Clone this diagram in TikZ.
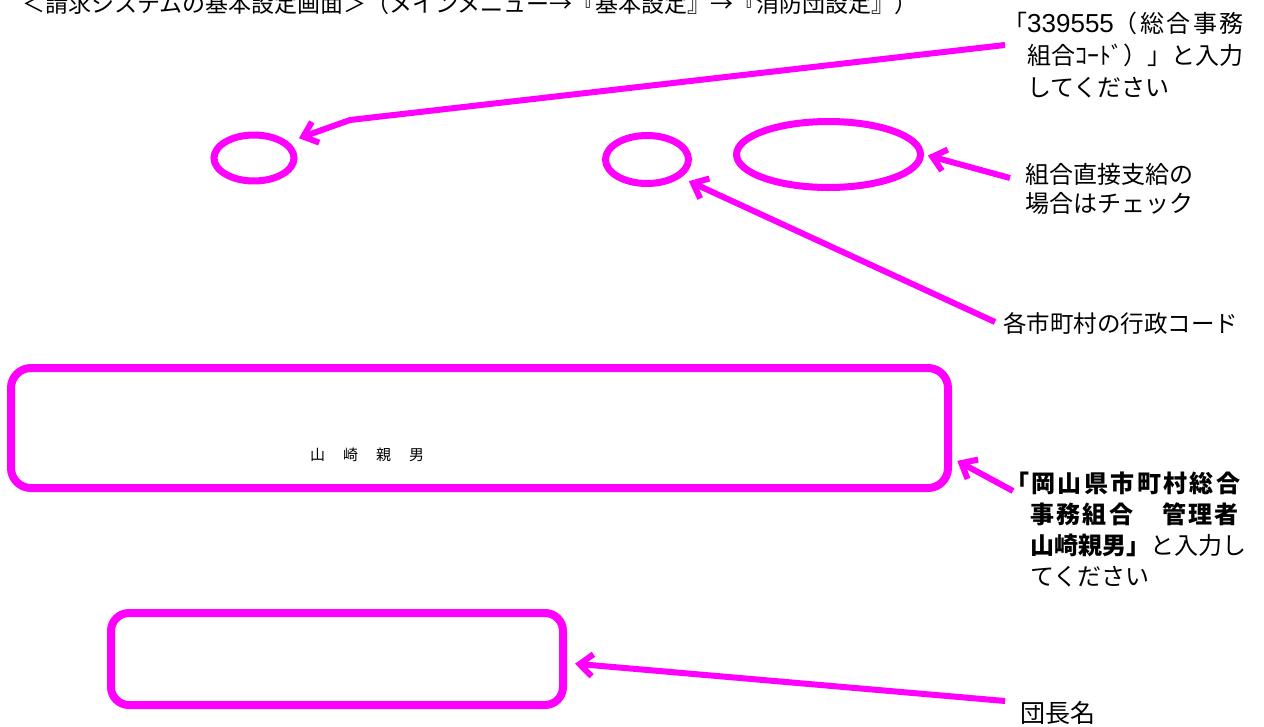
\documentclass[tikz,border=0pt]{standalone}
\usepackage{fontspec}
\newfontfamily\jp{Noto Sans CJK JP}
\newfontfamily\jpls[LetterSpace=10]{Noto Sans CJK JP}
\newfontfamily\digits{Liberation Sans}
\usetikzlibrary{shapes.geometric,arrows.meta}
\definecolor{mag}{RGB}{255,0,255}
\tikzset{
  hiloop/.style={draw=mag,line width=7pt,ellipse,inner sep=0pt},
  hibox/.style={draw=mag,line width=8pt,rounded corners=20pt,inner sep=0pt},
  ptr/.style={draw=mag,line width=6pt,-{Straight Barb[length=13pt,width=22pt]}},
  lbl/.style={font=\jp\fontsize{24}{31}\selectfont,align=left,inner sep=0pt,anchor=base west},
}
\begin{document}
\begin{tikzpicture}[x=1pt,y=-1pt]
\useasboundingbox (0,0) rectangle (1264,726);
\clip (0,0) rectangle (1264,726);

% title (cut off at the top, as in the reference)
\node[inner sep=0pt,anchor=base west,font=\jp\fontsize{23}{23}\selectfont] (title) at (22,12)
  {＜請求システムの基本設定画面＞（メインメニュー→『基本設定』→『消防団設定』）};

% highlight shapes
\node[hiloop,minimum width=80pt,minimum height=46pt] (e1) at (254,158) {};
\node[hiloop,minimum width=83pt,minimum height=48pt] (e2) at (647,159.5) {};
\node[hiloop,minimum width=184pt,minimum height=66pt] (e3) at (828.5,154.5) {};
\node[hibox,minimum width=937pt,minimum height=120pt] (big) at (479.5,428) {};
\node[hibox,rounded corners=18pt,minimum width=452pt,minimum height=92pt] (sm) at (337,659) {};

\node[inner sep=0pt,font=\jp\fontsize{15}{15}\selectfont] (nm) at (367,455)
  {山\hspace{18pt}崎\hspace{18pt}親\hspace{18pt}男};

% labels (anchored at the baseline of their last line)
\node[lbl,font=\jp\fontsize{24}{32}\selectfont] (l1) at (1003,96)
  {「{\digits\fontsize{26}{26}\selectfont 339555}{\jpls（総合事務}\\
   \hspace{24pt}組合ｺｰﾄﾞ）」と入力\\
   \hspace{24pt}してください};
\node[lbl,font=\jp\fontsize{24}{29}\selectfont] (l2) at (1025,212) {組合直接支給の\\場合はチェック};
\node[lbl,font=\jp\fontsize{23.5}{31}\selectfont] (l3) at (1003,332) {各市町村の行政コード};
\node[lbl] (l4) at (1005,585)
  {{\jpls\bfseries 「岡山県市町村総合}\\
   \hspace{25pt}{\jpls\bfseries 事務組合　管理者}\\
   \hspace{25pt}{\bfseries 山崎親男」}と入力し\\
   \hspace{25pt}てください};
\node[lbl,font=\jp\fontsize{25}{31}\selectfont] (l5) at (1020,722) {団長名};

% connector start points
\coordinate (s1) at (1005,45);
\coordinate (b1) at (350,120);
\coordinate (s2) at (1010,178);
\coordinate (s3) at (995,322);
\coordinate (s4) at (1013,491);
\coordinate (s5) at (1005,701);

% connectors
\draw[ptr,shorten >=11pt] (s1) -- (b1) -- (e1.25.5);
\draw[ptr,shorten >=4pt] (s2) -- (e3.east);
\draw[ptr,shorten >=8.6pt] (s3) -- (e2.-28.8);
\draw[ptr,shorten >=6pt] (s4) -- ([yshift=-30pt]big.east);
\draw[ptr,shorten >=8pt] (s5) -- ([yshift=-4pt]sm.east);
\end{tikzpicture}
\end{document}
